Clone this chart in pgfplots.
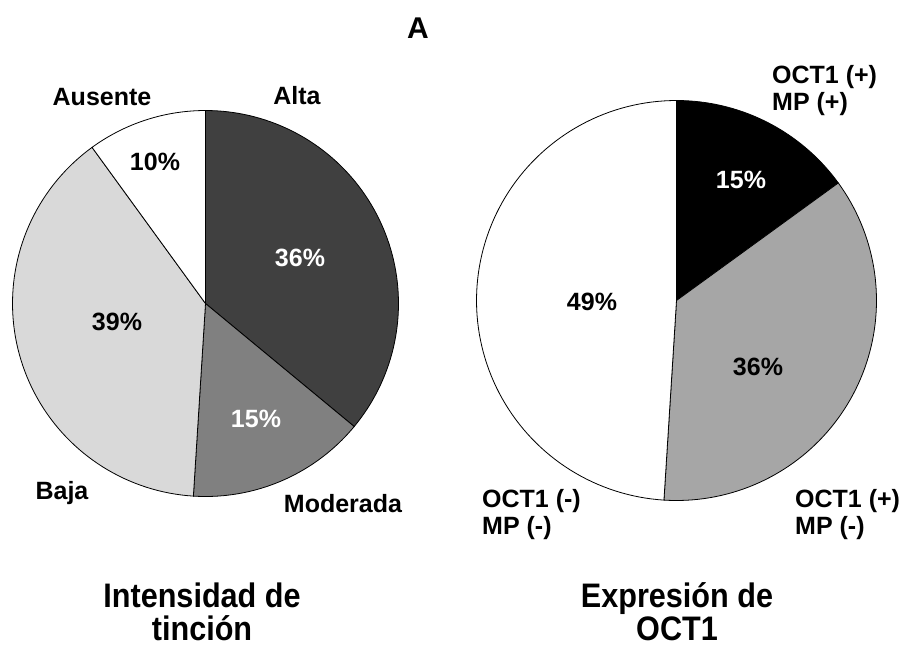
\documentclass[border=0pt]{standalone}
\usepackage{fontspec}
\setmainfont{Liberation Sans}
\newfontfamily\narrowfont[FakeStretch=0.9]{Liberation Sans}
\usepackage{pgfplots}
\pgfplotsset{compat=1.18}
\definecolor{alta}{HTML}{404040}
\definecolor{moderada}{HTML}{808080}
\definecolor{baja}{HTML}{D9D9D9}
\definecolor{mpneg}{HTML}{A6A6A6}
% data (percent)
\def\Alta{36}\def\Moderada{15}\def\Baja{39}\def\Ausente{10}
\def\PP{15}\def\PN{36}\def\NN{49}
% geometry (pixel units)
\def\lcx{205.5}\def\lcy{303.5}\def\lr{193}
\def\rcx{676.5}\def\rcy{300.5}\def\rr{200}
\newcommand{\lab}{\fontsize{25}{27}\selectfont\bfseries}
\newcommand{\ttl}{\fontsize{34}{32}\selectfont\narrowfont\bfseries}
\begin{document}
\begin{tikzpicture}
\begin{axis}[
  scale only axis, width=903pt, height=651pt,
  xmin=0, xmax=903, ymin=0, ymax=651, y dir=reverse,
  hide axis, clip=false,
]
% left pie
\addplot[draw=black, line width=0.8pt, fill=alta, domain={90-3.6*\Alta}:{90}, samples=80, variable=\t]
  ({\lcx+\lr*cos(t)},{\lcy-\lr*sin(t)}) -- (axis cs:\lcx,\lcy) -- cycle;
\addplot[draw=black, line width=0.8pt, fill=moderada, domain={90-3.6*(\Alta+\Moderada)}:{90-3.6*\Alta}, samples=50, variable=\t]
  ({\lcx+\lr*cos(t)},{\lcy-\lr*sin(t)}) -- (axis cs:\lcx,\lcy) -- cycle;
\addplot[draw=black, line width=0.8pt, fill=baja, domain={90-3.6*(\Alta+\Moderada+\Baja)}:{90-3.6*(\Alta+\Moderada)}, samples=80, variable=\t]
  ({\lcx+\lr*cos(t)},{\lcy-\lr*sin(t)}) -- (axis cs:\lcx,\lcy) -- cycle;
\addplot[draw=black, line width=0.8pt, fill=white, domain={90-3.6*(\Alta+\Moderada+\Baja+\Ausente)}:{90-3.6*(\Alta+\Moderada+\Baja)}, samples=40, variable=\t]
  ({\lcx+\lr*cos(t)},{\lcy-\lr*sin(t)}) -- (axis cs:\lcx,\lcy) -- cycle;
% right pie
\addplot[draw=black, line width=0.8pt, fill=black, domain={90-3.6*\PP}:{90}, samples=50, variable=\t]
  ({\rcx+\rr*cos(t)},{\rcy-\rr*sin(t)}) -- (axis cs:\rcx,\rcy) -- cycle;
\addplot[draw=black, line width=0.8pt, fill=mpneg, domain={90-3.6*(\PP+\PN)}:{90-3.6*\PP}, samples=80, variable=\t]
  ({\rcx+\rr*cos(t)},{\rcy-\rr*sin(t)}) -- (axis cs:\rcx,\rcy) -- cycle;
\addplot[draw=black, line width=0.8pt, fill=white, domain={90-3.6*(\PP+\PN+\NN)}:{90-3.6*(\PP+\PN)}, samples=100, variable=\t]
  ({\rcx+\rr*cos(t)},{\rcy-\rr*sin(t)}) -- (axis cs:\rcx,\rcy) -- cycle;
% labels
\node[font=\fontsize{30}{32}\selectfont\bfseries] at (axis cs:418,28) {A};
\node[font=\lab] at (axis cs:102,97) {Ausente};
\node[font=\lab] at (axis cs:297,96) {Alta};
\node[font=\lab] at (axis cs:155,162) {\Ausente\%};
\node[font=\lab, text=white] at (axis cs:300,258) {\Alta\%};
\node[font=\lab] at (axis cs:117,322) {\Baja\%};
\node[font=\lab, text=white] at (axis cs:256,419) {\Moderada\%};
\node[font=\lab] at (axis cs:62,493) {Baja};
\node[font=\lab] at (axis cs:343,504) {Moderada};
\node[font=\lab, text=white] at (axis cs:741,180) {\PP\%};
\node[font=\lab] at (axis cs:592,302) {\NN\%};
\node[font=\lab] at (axis cs:758,367) {\PN\%};
\node[font=\lab, anchor=base west, inner sep=0pt] at (axis cs:772,83) {OCT1 (+)};
\node[font=\lab, anchor=base west, inner sep=0pt] at (axis cs:772,110) {MP (+)};
\node[font=\lab, anchor=base west, inner sep=0pt] at (axis cs:795,507) {OCT1 (+)};
\node[font=\lab, anchor=base west, inner sep=0pt] at (axis cs:795,534) {MP (-)};
\node[font=\lab, anchor=base west, inner sep=0pt] at (axis cs:482,507) {OCT1 (-)};
\node[font=\lab, anchor=base west, inner sep=0pt] at (axis cs:482,534) {MP (-)};
\node[font=\ttl, anchor=base, inner sep=0pt] at (axis cs:202,607) {Intensidad de};
\node[font=\ttl, anchor=base, inner sep=0pt] at (axis cs:202,640) {tinción};
\node[font=\ttl, anchor=base, inner sep=0pt] at (axis cs:677,607) {Expresión de};
\node[font=\ttl, anchor=base, inner sep=0pt] at (axis cs:677,640) {OCT1};
\end{axis}
\pgfresetboundingbox
\path (current axis.south west) rectangle (current axis.north east);
\end{tikzpicture}
\end{document}
